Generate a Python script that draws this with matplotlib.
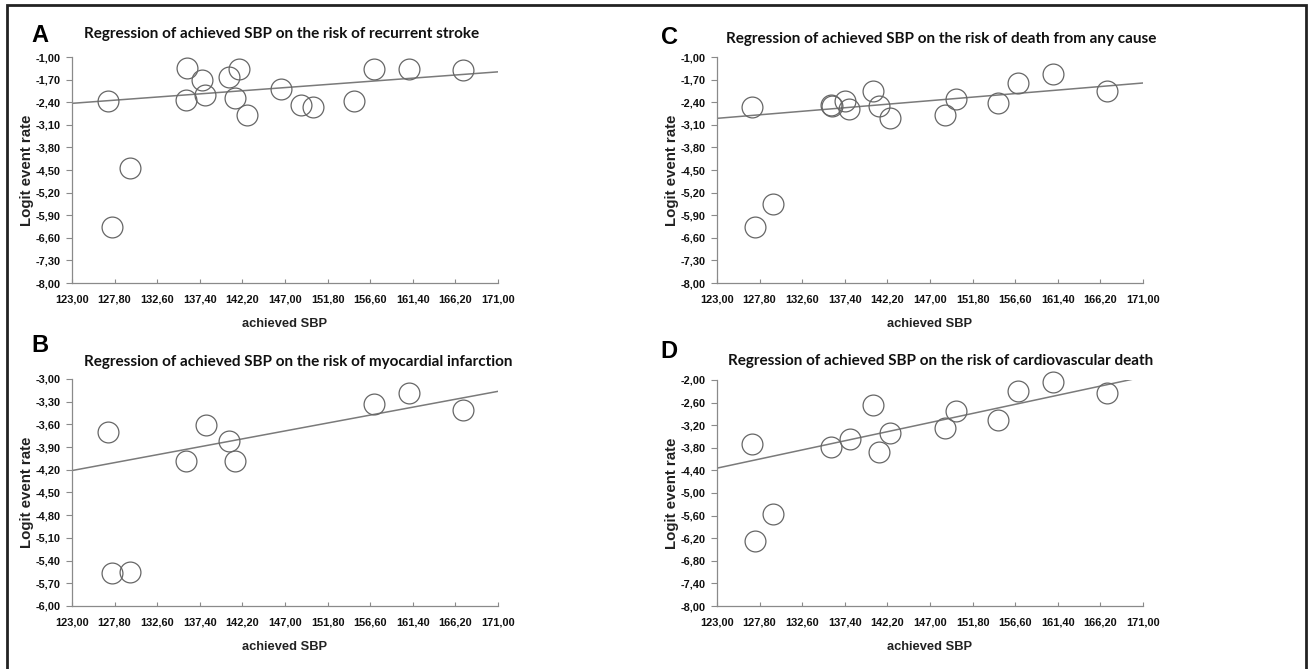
import matplotlib
matplotlib.use("Agg")
import matplotlib.pyplot as plt
from matplotlib.ticker import FuncFormatter
from matplotlib.patches import Rectangle

# panel A: recurrent stroke
a_sbp = [127.0, 127.5, 129.5, 136.0, 135.9, 137.6, 138.0, 140.7, 141.8, 141.4,
         142.7, 146.6, 148.8, 150.1, 154.8, 157.0, 161.0, 167.0]
a_logit = [-2.37, -6.27, -4.44, -1.34, -2.32, -1.70, -2.17, -1.62, -1.38, -2.26,
           -2.81, -1.98, -2.48, -2.55, -2.36, -1.36, -1.37, -1.41]
a_line = [-2.435, -1.46]

# panel B: myocardial infarction
b_sbp = [127.0, 127.5, 129.5, 135.9, 138.1, 140.7, 141.4, 157.0, 161.0, 167.0]
b_logit = [-3.705, -5.56, -5.55, -4.08, -3.61, -3.82, -4.08, -3.33, -3.18, -3.41]
b_line = [-4.21, -3.163]

# panel C: death from any cause
c_sbp = [126.9, 127.3, 129.3, 135.8, 136.0, 137.4, 137.9, 140.6, 141.2, 142.5,
         148.7, 149.9, 154.7, 156.9, 160.9, 166.9]
c_logit = [-2.55, -6.27, -5.55, -2.48, -2.51, -2.37, -2.60, -2.05, -2.52, -2.89,
           -2.81, -2.31, -2.42, -1.82, -1.54, -2.05]
c_line = [-2.90, -1.805]

# panel D: cardiovascular death
d_sbp = [126.9, 127.3, 129.3, 135.8, 138.0, 140.6, 141.2, 142.5, 148.7, 149.9,
         154.7, 156.9, 160.9, 166.9]
d_logit = [-3.69, -6.27, -5.55, -3.78, -3.57, -2.66, -3.91, -3.42, -3.28, -2.82,
           -3.06, -2.29, -2.05, -2.34]
d_line = [-4.34, -1.92]

x_ticks = [123.0, 127.8, 132.6, 137.4, 142.2, 147.0, 151.8, 156.6, 161.4, 166.2, 171.0]
line_x = [123.0, 171.0]

W, H = 1308, 669
fig = plt.figure(figsize=(W / 100, H / 100), dpi=100)

# outer frame
fig.patches.append(Rectangle((7 / W, -0.01), 1299 / W, 1 - 5 / H + 0.01,
                             transform=fig.transFigure, fill=False,
                             edgecolor="#222222", linewidth=2))

comma = FuncFormatter(lambda v, p: f"{v:.2f}".replace(".", ","))

panels = [
    # letter, title, x, y, line, yticks, axes box (px), title pos, letter pos
    ("A", "Regression of achieved SBP on the risk of recurrent stroke",
     a_sbp, a_logit, a_line, [-1.0 - 0.7 * i for i in range(11)],
     (72, 57, 498, 283), (282, 34), (40, 36)),
    ("C", "Regression of achieved SBP on the risk of death from any cause",
     c_sbp, c_logit, c_line, [-1.0 - 0.7 * i for i in range(11)],
     (717, 57, 1143, 283), (941, 39), (669, 38)),
    ("B", "Regression of achieved SBP on the risk of myocardial infarction",
     b_sbp, b_logit, b_line, [-3.0 - 0.3 * i for i in range(11)],
     (72, 379, 498, 606), (298, 362), (40, 346)),
    ("D", "Regression of achieved SBP on the risk of cardiovascular death",
     d_sbp, d_logit, d_line, [-2.0 - 0.6 * i for i in range(11)],
     (717, 380, 1143, 606), (941, 361), (669, 351)),
]

for letter, title, xs, ys, yline, yticks, box, tpos, lpos in panels:
    l, t, r, b = box
    ax = fig.add_axes([l / W, 1 - b / H, (r - l) / W, (b - t) / H])
    ax.plot(line_x, yline, color="#7a7a7a", linewidth=1.1, zorder=2)
    ax.plot(xs, ys, linestyle="none", marker="o", markersize=15,
            markerfacecolor="none", markeredgecolor="#666666",
            markeredgewidth=0.9, zorder=3, clip_on=False)
    ax.set_xlim(123, 171)
    ax.set_ylim(yticks[-1], yticks[0])
    ax.set_xticks(x_ticks)
    ax.set_yticks(yticks)
    ax.xaxis.set_major_formatter(comma)
    ax.yaxis.set_major_formatter(comma)
    for s in ["top", "right"]:
        ax.spines[s].set_visible(False)
    for s in ["left", "bottom"]:
        ax.spines[s].set_color("#8a8a8a")
        ax.spines[s].set_linewidth(0.9)
    ax.tick_params(axis="x", direction="in", length=3, color="#8a8a8a", pad=8)
    ax.tick_params(axis="y", direction="out", length=4, color="#8a8a8a", pad=4)
    for lab in ax.get_xticklabels() + ax.get_yticklabels():
        lab.set_fontfamily("Liberation Sans")
        lab.set_fontweight("bold")
        lab.set_fontsize(7.9)
        lab.set_color("#111111")

    cx = (l + r) / 2
    fig.text(cx / W, 1 - (b + 41) / H, "achieved SBP", ha="center", va="center",
             family="Liberation Sans", weight="bold", fontsize=9.3, color="#222222")
    fig.text((l - 45) / W, 1 - ((t + b) / 2) / H, "Logit event rate", ha="center",
             va="center", rotation=90, family="Liberation Sans", weight="bold",
             fontsize=10.8, color="#222222")
    fig.text(tpos[0] / W, 1 - tpos[1] / H, title, ha="center", va="center",
             family="Lato", weight="bold", fontsize=11, color="#111111")
    fig.text(lpos[0] / W, 1 - lpos[1] / H, letter, ha="center", va="center",
             family="Liberation Sans", weight="bold", fontsize=17, color="#000000")

fig.savefig("out.png", dpi=100)
